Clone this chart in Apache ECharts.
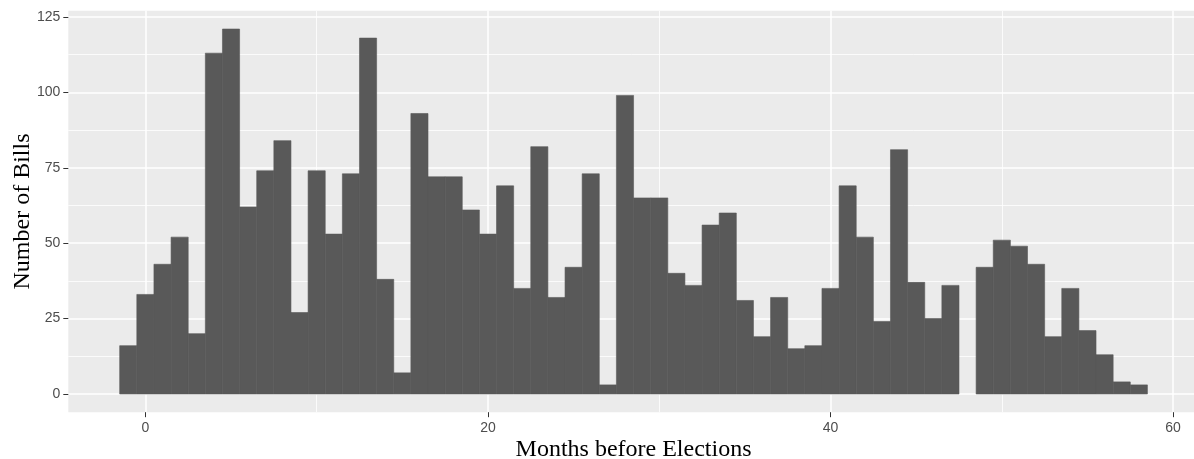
<!DOCTYPE html>
<html>
<head>
<meta charset="utf-8">
<script src="https://cdn.jsdelivr.net/npm/echarts@6/dist/echarts.min.js"></script>
<style>
  html, body { margin: 0; padding: 0; background: #ffffff; }
  #chart { width: 1194px; height: 459px; }
</style>
</head>
<body>
<div id="chart"></div>
<script>
// Data (bin width 1 month)
const months = [-1, 0, 1, 2, 3, 4, 5, 6, 7, 8, 9, 10, 11, 12, 13, 14, 15, 16, 17, 18, 19,
  20, 21, 22, 23, 24, 25, 26, 27, 28, 29, 30, 31, 32, 33, 34, 35, 36, 37, 38, 39,
  40, 41, 42, 43, 44, 45, 46, 47, 48, 49, 50, 51, 52, 53, 54, 55, 56, 57, 58];
const counts = [16, 33, 43, 52, 20, 113, 121, 62, 74, 84, 27, 74, 53, 73, 118, 38, 7, 93, 72, 72, 61,
  53, 69, 35, 82, 32, 42, 73, 3, 99, 65, 65, 40, 36, 56, 60, 31, 19, 32, 15, 16,
  35, 69, 52, 24, 81, 37, 25, 36, 0, 42, 51, 49, 43, 19, 35, 21, 13, 4, 3];
const xMajorTicks = [0, 20, 40, 60];
const xMinorTicks = [10, 30, 50];
const yMajorTicks = [0, 25, 50, 75, 100, 125];
const yMinorTicks = [12.5, 37.5, 62.5, 87.5, 112.5];
const xTitle = 'Months before Elections';
const yTitle = 'Number of Bills';

const binWidth = 1;
const xMin = -4.5, xMax = 61.5;
const yMin = -6.05, yMax = 127.05;

const labelStyle = { color: '#4D4D4D', fontSize: 14, fontFamily: 'Liberation Sans, Arial, sans-serif' };
const titleStyle = { color: '#000000', fontSize: 24, fontFamily: 'Liberation Serif, Times New Roman, serif' };

const chart = echarts.init(document.getElementById('chart'), null, { renderer: 'canvas' });

const option = {
  animation: false,
  backgroundColor: '#ffffff',
  grid: {
    left: 68.3, right: -4.8, top: 10.8, bottom: 46.8,
    outerBoundsMode: 'none', containLabel: false,
    show: true, backgroundColor: '#EBEBEB', borderWidth: 0
  },
  xAxis: [
    {
      type: 'value', gridIndex: 0, position: 'bottom', min: xMin, max: xMax,
      axisLine: { show: false, onZero: false },
      axisTick: { show: true, length: 5, lineStyle: { color: '#333333', width: 1 }, customValues: xMajorTicks },
      axisLabel: Object.assign({ margin: 9, customValues: xMajorTicks, formatter: v => String(v) }, labelStyle),
      splitLine: { show: true, lineStyle: { color: '#ffffff', width: 1.5 } },
      name: xTitle, nameLocation: 'middle', nameGap: 26, nameMoveOverlap: false, nameTextStyle: titleStyle
    },
    {
      type: 'value', gridIndex: 0, position: 'top', min: xMin, max: xMax,
      axisLine: { show: false, onZero: false },
      axisTick: { show: false, customValues: xMinorTicks },
      axisLabel: { show: false, customValues: xMinorTicks },
      splitLine: { show: true, lineStyle: { color: '#ffffff', width: 0.8 } }
    }
  ],
  yAxis: [
    {
      type: 'value', gridIndex: 0, position: 'left', min: yMin, max: yMax,
      axisLine: { show: false, onZero: false },
      axisTick: { show: true, length: 5, lineStyle: { color: '#333333', width: 1 }, customValues: yMajorTicks },
      axisLabel: Object.assign({ margin: 8, customValues: yMajorTicks, formatter: v => String(v) }, labelStyle),
      splitLine: { show: true, lineStyle: { color: '#ffffff', width: 1.5 } },
      name: yTitle, nameLocation: 'middle', nameGap: 34, nameMoveOverlap: false, nameRotate: 90, nameTextStyle: titleStyle
    },
    {
      type: 'value', gridIndex: 0, position: 'right', min: yMin, max: yMax,
      axisLine: { show: false, onZero: false },
      axisTick: { show: false, customValues: yMinorTicks },
      axisLabel: { show: false, customValues: yMinorTicks },
      splitLine: { show: true, lineStyle: { color: '#ffffff', width: 0.8 } }
    }
  ],
  series: [
    {
      type: 'custom',
      xAxisIndex: 0, yAxisIndex: 0,
      data: months.map((m, i) => [m, counts[i]]),
      renderItem: function (params, api) {
        const x = api.value(0), y = api.value(1);
        if (!y) return null;
        const p0 = api.coord([x - binWidth / 2, y]);
        const p1 = api.coord([x + binWidth / 2, 0]);
        return {
          type: 'rect',
          shape: { x: p0[0], y: p0[1], width: p1[0] - p0[0], height: p1[1] - p0[1] },
          style: { fill: '#595959', stroke: '#595959', lineWidth: 0.6 }
        };
      },
      z: 5
    }
  ]
};
chart.setOption(option);
</script>
</body>
</html>
